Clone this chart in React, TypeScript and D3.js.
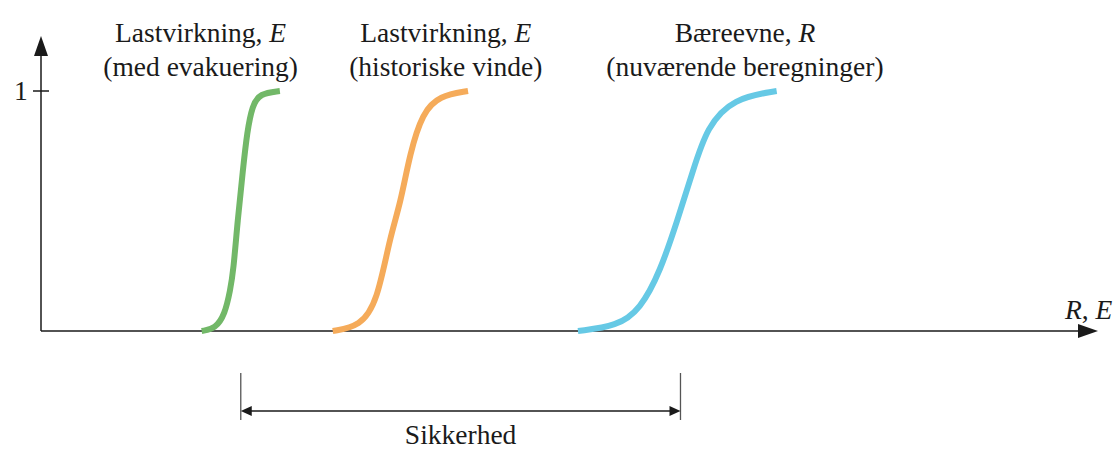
import React from "react";
import * as d3 from "d3";

// points: x in axis units (0..100), y as probability (0..1)
const greenX = [15.2, 16.5, 17.4, 17.9, 18.2, 18.6, 19.1, 19.5, 20.0, 20.7, 22.6];
const greenY = [0, 0.01, 0.07, 0.17, 0.25, 0.46, 0.67, 0.83, 0.94, 0.99, 1];
const orangeX = [27.6, 30.2, 31.8, 33.0, 34.0, 34.9, 36.1, 37.7, 40.4];
const orangeY = [0, 0.02, 0.12, 0.39, 0.53, 0.74, 0.91, 0.98, 1];
const blueX = [50.8, 54.5, 56.7, 58.6, 60.2, 61.7, 63.0, 65.5, 69.6];
const blueY = [0, 0.02, 0.09, 0.25, 0.46, 0.67, 0.85, 0.97, 1];

const curveColors = ["#72b868", "#f5ab5a", "#66c9e5"];
const titleLine1 = ["Lastvirkning, ", "Lastvirkning, ", "Bæreevne, "];
const titleVar = ["E", "E", "R"];
const titleLine2 = ["(med evakuering)", "(historiske vinde)", "(nuværende beregninger)"];
const titleCenter = [15.1, 38.3, 66.6];

const safetyFrom = 18.9;
const safetyTo = 60.5;
const safetyLabel = "Sikkerhed";

const W = 1117;
const H = 450;

const App = () => {
  const x = d3.scaleLinear().domain([0, 100]).range([41, 1098]);
  const y = d3.scaleLinear().domain([0, 1]).range([331, 91]);

  const line = d3
    .line<[number, number]>()
    .x(d => x(d[0]))
    .y(d => y(d[1]))
    .curve(d3.curveBasis);

  const series = [
    d3.zip(greenX, greenY),
    d3.zip(orangeX, orangeY),
    d3.zip(blueX, blueY),
  ] as [number, number][][];

  const font = "'Liberation Serif', 'Times New Roman', serif";
  const ink = "#1a1a1a";
  const fs = 27.5;
  const x0 = x(0);
  const y0 = y(0);
  const xa = x(safetyFrom);
  const xb = x(safetyTo);

  return (
    <svg
      width={W}
      height={H}
      style={{ position: "absolute", left: 0, top: 0, background: "#fff" }}
      fontFamily={font}
    >
      {/* axes */}
      <line x1={x0} y1={y0} x2={x0} y2={50} stroke={ink} strokeWidth={1.5} />
      <path d={`M${x0},36 L${x0 - 7},56 L${x0 + 7},56 Z`} fill={ink} />
      <line x1={x0} y1={y0} x2={1084} y2={y0} stroke={ink} strokeWidth={1.5} />
      <path d={`M1098,${y0} L1078,${y0 - 7} L1078,${y0 + 7} Z`} fill={ink} />
      <line x1={x0 - 8} y1={y(1)} x2={x0 + 8} y2={y(1)} stroke={ink} strokeWidth={1.5} />
      <text x={14} y={y(1) + 9} fontSize={fs} fill={ink}>1</text>
      <text x={1065} y={319} fontSize={fs} fill={ink}>
        <tspan fontStyle="italic">R</tspan>, <tspan fontStyle="italic">E</tspan>
      </text>

      {/* curves */}
      {series.map((s, i) => (
        <path
          key={i}
          d={line(s) || ""}
          fill="none"
          stroke={curveColors[i]}
          strokeWidth={6}
          strokeLinecap="butt"
        />
      ))}

      {/* titles */}
      {titleLine1.map((t, i) => (
        <g key={i} fontSize={fs} fill={ink} textAnchor="middle">
          <text x={x(titleCenter[i])} y={42}>
            {t}
            <tspan fontStyle="italic">{titleVar[i]}</tspan>
          </text>
          <text x={x(titleCenter[i])} y={76}>{titleLine2[i]}</text>
        </g>
      ))}

      {/* safety bracket */}
      <line x1={xa} y1={373} x2={xa} y2={420} stroke="#555" strokeWidth={1.3} />
      <line x1={xb} y1={373} x2={xb} y2={420} stroke="#555" strokeWidth={1.3} />
      <line x1={xa + 4} y1={411} x2={xb - 4} y2={411} stroke={ink} strokeWidth={1.5} />
      <path d={`M${xa},411 L${xa + 11},406 L${xa + 11},416 Z`} fill={ink} />
      <path d={`M${xb},411 L${xb - 11},406 L${xb - 11},416 Z`} fill={ink} />
      <text x={(xa + xb) / 2} y={444} fontSize={fs} fill={ink} textAnchor="middle">
        {safetyLabel}
      </text>
    </svg>
  );
};

export default App;
